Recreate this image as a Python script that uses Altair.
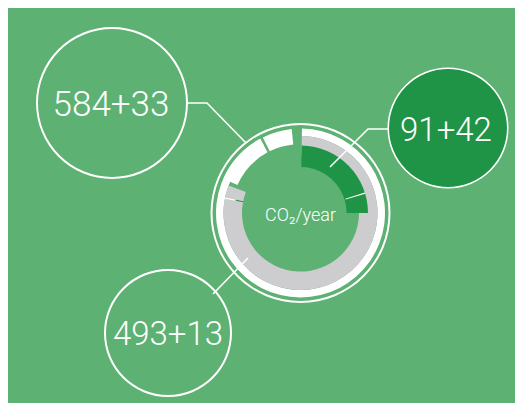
import altair as alt
import pandas as pd

# ---------------- values ----------------
callout_labels = ["584+33", "91+42", "493+13"]
centre_label = "CO₂/year"

# donut pieces: angles in degrees, clockwise from 12 o'clock
piece_start = [1.0, 294.0, 333.5, 1.0, 280.6, 280.6, 1.0, 72.4]
piece_end = [331.5, 331.5, 354.0, 291.0, 281.6, 281.6, 90.0, 73.4]

# ---------------- layout / styles (page pixel coordinates) ----------------
WHITE = "#ffffff"
GREY = "#cdcdd0"
DARK = "#1f9447"
BG = "#5cb173"

DX, DY = 300.5, 213.0
piece_r_in = [77.0, 69.0, 69.0, 58.5, 66.0, 58.5, 46.0, 47.0]
piece_r_out = [84.5, 84.5, 84.5, 77.0, 77.0, 66.0, 67.5, 67.5]
piece_fill = [WHITE, WHITE, WHITE, GREY, WHITE, DARK, DARK, WHITE]

ring_cx = [DX, 112.0, 448.0, 448.0, 168.0]
ring_cy = [DY, 103.0, 128.0, 128.0, 333.0]
ring_rin = [88.0, 74.0, 0.0, 59.0, 62.0]
ring_rout = [90.0, 76.0, 59.0, 60.5, 64.0]
ring_fill = [WHITE, WHITE, DARK, WHITE, WHITE]

label_x = [111.0, 446.0, 168.0]
label_y = [115.5, 140.5, 345.0]
label_size = [35, 33, 33]

line_id = [0, 0, 0, 1, 1, 1, 2, 2]
line_k = [0, 1, 2, 0, 1, 2, 0, 1]
line_x = [186.0, 207.0, 246.0, 388.0, 368.0, 330.0, 248.0, 213.0]
line_y = [103.0, 103.0, 143.0, 129.0, 129.0, 167.0, 258.0, 294.0]

W, H = 507, 395
xs = alt.Scale(domain=[8, 8 + W], range=[0, W])
ys = alt.Scale(domain=[8, 8 + H], range=[0, H])
ts = alt.Scale(domain=[0, 360], range=[0, 6.283185307179586])
rs = alt.Scale(type="linear", domain=[0, 100], range=[0, 100], zero=True)

pieces = pd.DataFrame({
    "cx": DX, "cy": DY,
    "a0": piece_start, "a1": piece_end,
    "r0": piece_r_in, "r1": piece_r_out, "col": piece_fill,
})
rings = pd.DataFrame({
    "cx": ring_cx, "cy": ring_cy, "a0": 0.0, "a1": 360.0,
    "r0": ring_rin, "r1": ring_rout, "col": ring_fill,
})
arcs = pd.concat([rings.iloc[[0, 1, 2, 3, 4]], pieces], ignore_index=True)
arcs["order"] = range(len(arcs))

arc_layer = alt.Chart(arcs).mark_arc(stroke=None).encode(
    x=alt.X("cx:Q", scale=xs, axis=None),
    y=alt.Y("cy:Q", scale=ys, axis=None),
    theta=alt.Theta("a0:Q", scale=ts, stack=False),
    theta2="a1:Q",
    radius=alt.Radius("r1:Q", scale=rs),
    radius2="r0:Q",
    color=alt.Color("col:N", scale=None),
    order=alt.Order("order:Q"),
)

lines = pd.DataFrame({"id": line_id, "k": line_k, "x": line_x, "y": line_y})
line_layer = alt.Chart(lines).mark_line(color=WHITE, strokeWidth=1.6).encode(
    x=alt.X("x:Q", scale=xs, axis=None),
    y=alt.Y("y:Q", scale=ys, axis=None),
    detail="id:N",
    order="k:Q",
)

labels = pd.DataFrame({"t": callout_labels, "x": label_x, "y": label_y, "s": label_size})
label_layer = alt.Chart(labels).mark_text(
    color=WHITE, font="Roboto", fontWeight=300, align="center", baseline="alphabetic"
).encode(
    x=alt.X("x:Q", scale=xs, axis=None),
    y=alt.Y("y:Q", scale=ys, axis=None),
    text="t:N",
    size=alt.Size("s:Q", scale=None),
)

centre = pd.DataFrame({"t": [centre_label], "x": [DX], "y": [220.5]})
centre_layer = alt.Chart(centre).mark_text(
    color=WHITE, font="Roboto", fontWeight=300, fontSize=18, align="center", baseline="alphabetic"
).encode(
    x=alt.X("x:Q", scale=xs, axis=None),
    y=alt.Y("y:Q", scale=ys, axis=None),
    text="t:N",
)

chart = alt.layer(arc_layer, line_layer, label_layer, centre_layer).properties(
    width=W, height=H, padding=0,
    autosize=alt.AutoSizeParams(type="fit", contains="padding"),
    background=BG,
).configure_view(stroke=None)

chart.save("out.html", embed_options={"renderer": "svg", "actions": False})
